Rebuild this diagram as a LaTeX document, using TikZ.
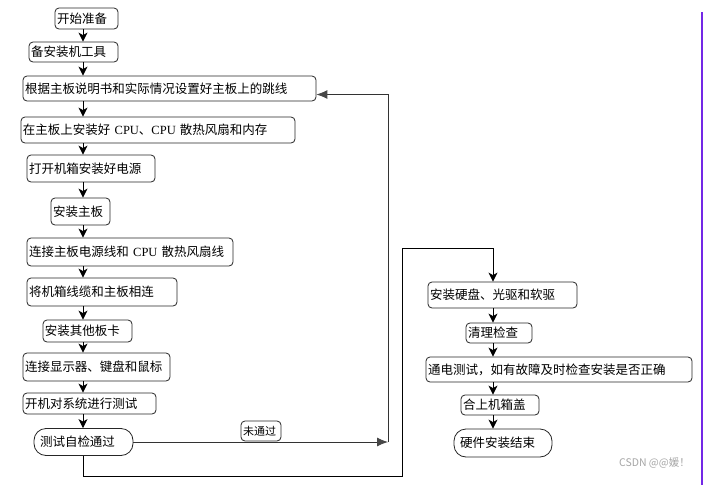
\documentclass[tikz,border=0pt]{standalone}
\usepackage{fontspec}
\setmainfont{Noto Sans CJK SC}
\newfontfamily\lat{Liberation Serif}
\usetikzlibrary{arrows.meta}
\begin{document}
\begin{tikzpicture}[x=1pt,y=-1pt,
  box/.style={draw=black!85, line width=0.8pt, rounded corners=4pt, inner xsep=2pt, inner ysep=0pt,
    align=left, font=\fontsize{12.5}{14}\selectfont, anchor=center},
  stad/.style={box, rounded corners=12pt, inner xsep=6pt},
  arr/.style={-{Stealth[length=9pt,width=9pt,inset=2.5pt]}, line width=0.9pt, draw=black},
  garr/.style={-{Latex[length=11pt,width=9pt,fill=black!72,color=black!72]}, line width=0.9pt, draw=black!80},
  ln/.style={line width=0.9pt, draw=black}
]
\useasboundingbox (0,0) rectangle (705,485);
\fill[white] (0,0) rectangle (705,485);
\coordinate (ax) at (83,0);
\coordinate (rx) at (493,0);
% left column
\node[box, text width=59pt, minimum height=21pt] (b1) at (86.5,18.5) {开始准备};
\node[box, text width=85pt, minimum height=20pt] (b2) at (73.5,52) {备安装机工具};
\node[box, text width=289pt, minimum height=25pt] (b3) at (169.5,88.5) {根据主板说明书和实际情况设置好主板上的跳线};
\node[box, text width=270pt, minimum height=26pt] (b4) at (158,130) {在主板上安装好~{\lat CPU}、{\lat CPU}~散热风扇和内存};
\node[box, text width=124pt, minimum height=27pt] (b5) at (91,168.5) {打开机箱安装好电源};
\node[box, text width=55pt, minimum height=27pt] (b6) at (80.5,211.5) {安装主板};
\node[box, text width=202pt, minimum height=28pt] (b7) at (130,252) {连接主板电源线和~{\lat CPU}~散热风扇线};
\node[box, text width=146pt, minimum height=28pt] (b8) at (102,292) {将机箱线缆和主板相连};
\node[box, text width=85pt, minimum height=22pt] (b9) at (87.5,331) {安装其他板卡};
\node[box, text width=143pt, minimum height=28pt] (b10) at (96.5,367) {连接显示器、键盘和鼠标};
\node[box, text width=129pt, minimum height=21pt] (b11) at (89.5,403.5) {开机对系统进行测试};
\node[stad, text width=87pt, minimum height=27pt] (b12) at (83.5,442) {测试自检通过};
\node[box, text width=36pt, minimum height=20pt, font=\fontsize{11}{12}\selectfont] (lb) at (261,431) {未通过};
% right column
\node[box, text width=145pt, minimum height=26pt] (r1) at (502.5,295) {安装硬盘、光驱和软驱};
\node[box, text width=62pt, minimum height=20pt] (r2) at (499,333) {清理检查};
\node[box, text width=262pt, minimum height=25pt] (r3) at (559,369.5) {通电测试，如有故障及时检查安装是否正确};
\node[box, text width=74pt, minimum height=20pt] (r4) at (500,405) {合上机箱盖};
\node[stad, text width=86pt, minimum height=28pt] (r5) at (503,443) {硬件安装结束};
% down arrows left
\foreach \a/\b in {b1/b2,b2/b3,b3/b4,b4/b5,b5/b6,b6/b7,b7/b8,b8/b9,b9/b10,b10/b11,b11/b12}
  \draw[arr] (\a.south -| ax) -- (\b.north -| ax);
\foreach \a/\b in {r1/r2,r2/r3,r3/r4,r4/r5}
  \draw[arr] (\a.south -| rx) -- (\b.north -| rx);
% feedback
\coordinate (j) at (388,442);
\draw[garr] (b12.east) -- (j);
\draw[garr] (j) |- ([yshift=-6pt]b3.east);
% continue path
\coordinate (lp) at (402,476);
\coordinate (tp) at (402,248);
\draw[arr] (b12.south -| ax) |- (lp) -- (tp) -| (r1.north -| rx);
% right edge artifact and watermark
\draw[line width=2pt, draw={rgb,255:red,115;green,40;blue,230}] (702,12) -- (702,485);
\node[anchor=east, text=black!35, font=\fontsize{10.5}{12}\selectfont, inner sep=0pt] (wm) at (690,463) {CSDN @@媛！};
\end{tikzpicture}
\end{document}
